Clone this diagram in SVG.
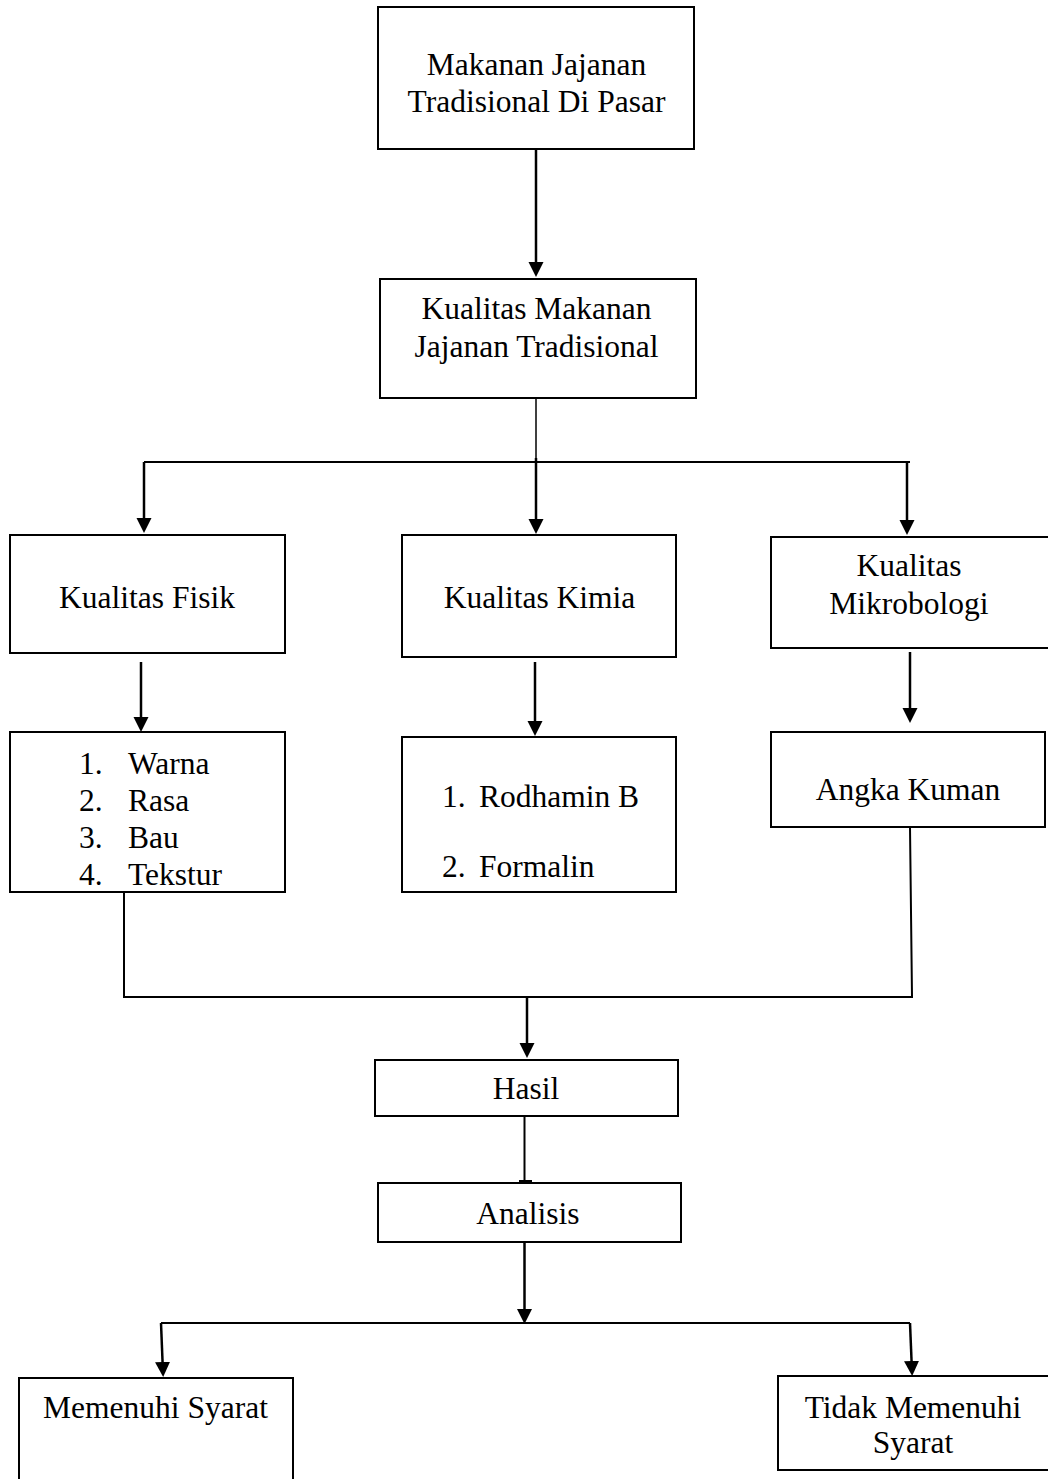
<svg xmlns="http://www.w3.org/2000/svg" width="1048" height="1479" viewBox="0 0 1048 1479">
<style>
.box{fill:#fff;stroke:#000;stroke-width:2}
.t{font-family:"Liberation Serif","Times New Roman",serif;font-size:31.5px;fill:#000}
.c{text-anchor:middle}
.ln{fill:none;stroke:#000;stroke-width:2}
.thin{fill:none;stroke:#000;stroke-width:1.5}
.ar{fill:none;stroke:#000;stroke-width:2.5;marker-end:url(#ah)}
</style>
<defs>
<marker id="ah" markerUnits="userSpaceOnUse" markerWidth="16" markerHeight="16" refX="11" refY="7.5" orient="auto"><path d="M0,0 L15,7.5 L0,15 z" fill="#000"/></marker>
</defs>
<rect x="0" y="0" width="1048" height="1479" fill="#fff"/>

<g id="n1"><rect class="box" x="378" y="7" width="316" height="142"/>
<text class="t c" x="536.5" y="75">Makanan Jajanan</text>
<text class="t c" x="536.5" y="112">Tradisional Di Pasar</text></g>

<g id="n2"><rect class="box" x="380" y="279" width="316" height="119"/>
<text class="t c" x="536.5" y="319">Kualitas Makanan</text>
<text class="t c" x="536.5" y="357">Jajanan Tradisional</text></g>

<g id="n3"><rect class="box" x="10" y="535" width="275" height="118"/>
<text class="t c" x="147" y="608">Kualitas Fisik</text></g>

<g id="n4"><rect class="box" x="402" y="535" width="274" height="122"/>
<text class="t c" x="539.5" y="608">Kualitas Kimia</text></g>

<g id="n5"><rect class="box" x="771" y="537" width="285" height="111"/>
<text class="t c" x="909" y="576">Kualitas</text>
<text class="t c" x="909" y="614">Mikrobologi</text></g>

<g id="n6"><rect class="box" x="10" y="732" width="275" height="160"/>
<text class="t" x="79" y="774">1.</text><text class="t" x="128" y="774">Warna</text>
<text class="t" x="79" y="811">2.</text><text class="t" x="128" y="811">Rasa</text>
<text class="t" x="79" y="848">3.</text><text class="t" x="128" y="848">Bau</text>
<text class="t" x="79" y="885">4.</text><text class="t" x="128" y="885">Tekstur</text></g>

<g id="n7"><rect class="box" x="402" y="737" width="274" height="155"/>
<text class="t" x="442" y="807">1.</text><text class="t" x="479" y="807">Rodhamin B</text>
<text class="t" x="442" y="877">2.</text><text class="t" x="479" y="877">Formalin</text></g>

<g id="n8"><rect class="box" x="771" y="732" width="274" height="95"/>
<text class="t c" x="908" y="800">Angka Kuman</text></g>

<g id="n9"><rect class="box" x="375" y="1060" width="303" height="56"/>
<text class="t c" x="526" y="1099">Hasil</text></g>

<g id="n10"><rect class="box" x="378" y="1183" width="303" height="59"/>
<text class="t c" x="528" y="1224">Analisis</text></g>

<g id="n11"><rect class="box" x="19" y="1378" width="274" height="120"/>
<text class="t c" x="155.5" y="1418">Memenuhi Syarat</text></g>

<g id="n12"><rect class="box" x="778" y="1376" width="285" height="94"/>
<text class="t c" x="913" y="1418">Tidak Memenuhi</text>
<text class="t c" x="913" y="1453">Syarat</text></g>

<g id="connectors">
<path class="ar" d="M536,149 L536,273"/>
<path class="thin" d="M536,398 L536,462"/>
<path class="ln" d="M144,462 L910,462"/>
<path class="ar" d="M144,462 L144,529"/>
<path class="ar" d="M536,458 L536,530"/>
<path class="ar" d="M907,462 L907,531"/>
<path class="ar" d="M141,662 L141,728"/>
<path class="ar" d="M535,662 L535,732"/>
<path class="ar" d="M910,652 L910,719"/>
<path class="ln" d="M124,892 L124,997 L912,997 L910,827"/>
<path class="ar" d="M527,997 L527,1054"/>
<path class="ln" d="M524.5,1116 L524.5,1182"/>
<path class="ln" d="M519,1181 L532,1181"/>
<path class="ar" d="M524.5,1242 L524.5,1320"/>
<path class="ln" d="M161,1323 L910,1323"/>
<path class="ar" d="M161,1323 L163,1373"/>
<path class="ar" d="M910,1323 L912,1372"/>
</g>
</svg>
